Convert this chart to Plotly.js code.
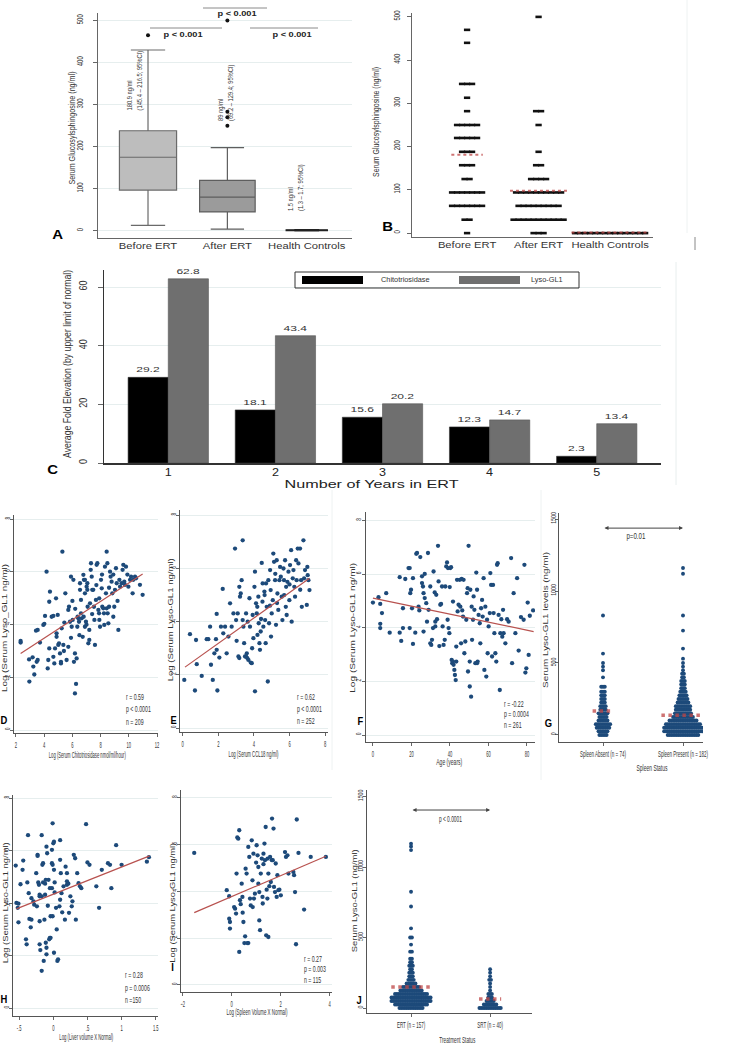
<!DOCTYPE html>
<html><head><meta charset="utf-8">
<script src="https://cdn.plot.ly/plotly-3.0.1.min.js"></script>
<style>html,body{margin:0;padding:0;background:#fff}#chart{width:731px;height:1050px}</style>
</head><body><div id="chart"></div>
<script>
// ---------------- DATA ----------------
// Panel A (box plot summary, ng/ml)
const aCats = ['Before ERT', 'After ERT', 'Health Controls'];
const aQ1 = [97, 45, 0.5];
const aMedian = [175, 80, 1.5];
const aQ3 = [238, 120, 2.5];
const aLowFence = [13, 4, 0];
const aHighFence = [430, 198, 3];
const aOutlierGroup = [0, 1, 1, 1, 1];
const aOutlierVal = [465, 250, 270, 283, 500];
const aCIText = ['180.9 ng/ml<br>(145.4 – 216.5; 95%CI)', '89 ng/ml<br>(69.2 – 129.4; 95%CI)', '1.5 ng/ml<br>(1.3 – 1.7; 95%CI)'];
const aPText = ['p < 0.001', 'p < 0.001', 'p < 0.001'];

// Panel B (dot plot: value levels and counts)
const bBeforeLevels = [0, 31, 63, 94, 125, 157, 188, 220, 250, 282, 313, 345, 440, 470];
const bBeforeCounts = [1, 2, 7, 7, 2, 3, 3, 5, 5, 1, 1, 3, 1, 1];
const bAfterLevels = [0, 31, 63, 94, 125, 157, 188, 250, 282, 500];
const bAfterCounts = [3, 11, 9, 10, 4, 2, 1, 1, 2, 1];
const bHcLevels = [0];
const bHcCounts = [15];
const bMedians = [181, 98, 1.5];

// Panel C
const cYears = [1, 2, 3, 4, 5];
const cSeries = ['Chitotriosidase', 'Lyso-GL1'];
const cChito = [29.2, 18.1, 15.6, 12.3, 2.3];
const cLyso = [62.8, 43.4, 20.2, 14.7, 13.4];

// Panel D: log chitotriosidase vs log lyso-GL1
const dPts = [[2.33,3.38],[2.33,3.32],[2.95,1.84],[2.93,2.68],[3.18,2.76],[3.23,2.41],[3.30,2.11],[3.47,2.59],[3.54,2.66],[3.42,3.77],[3.54,3.80],[3.70,3.32],[3.94,3.99],[4.01,4.03],[4.06,4.33],[4.17,6.01],[4.25,2.34],[4.29,2.66],[4.36,3.10],[4.41,5.25],[4.36,4.87],[4.53,4.30],[4.65,4.33],[4.65,2.78],[4.72,2.53],[4.77,3.10],[4.84,5.00],[4.88,3.54],[4.88,3.67],[4.96,4.37],[5.00,3.23],[5.05,3.29],[5.12,2.91],[5.19,2.53],[5.19,2.59],[5.24,3.86],[5.29,6.77],[5.36,3.23],[5.43,4.08],[5.50,5.19],[5.59,2.66],[5.71,3.16],[5.71,4.56],[5.76,4.68],[5.83,4.11],[5.90,5.82],[5.95,3.92],[6.02,4.18],[6.07,5.70],[6.11,2.59],[6.18,2.91],[6.18,1.39],[6.26,1.75],[6.30,2.72],[6.35,3.92],[6.37,4.30],[6.42,4.24],[6.47,4.11],[6.54,5.57],[6.54,5.32],[6.61,4.94],[6.61,4.43],[6.66,4.24],[6.73,3.54],[6.78,5.89],[6.82,5.70],[6.89,5.70],[6.89,5.19],[6.89,3.92],[6.96,4.11],[7.01,5.44],[7.06,5.57],[7.06,5.32],[7.08,4.68],[7.13,3.29],[7.20,3.42],[7.25,4.81],[7.30,6.08],[7.32,6.33],[7.37,5.82],[7.41,5.32],[7.48,5.32],[7.53,4.68],[7.56,4.18],[7.60,3.23],[7.67,4.94],[7.72,6.27],[7.77,6.33],[7.84,4.56],[7.89,4.43],[7.91,4.18],[7.96,3.92],[8.03,5.70],[8.08,5.38],[8.12,4.68],[8.19,4.62],[8.24,4.43],[8.26,3.99],[8.31,6.20],[8.38,5.19],[8.43,4.62],[8.43,6.77],[8.48,6.33],[8.50,4.43],[8.55,4.05],[8.60,4.68],[8.67,6.01],[8.71,5.82],[8.78,5.63],[8.83,5.19],[8.90,4.30],[8.97,4.68],[9.02,5.32],[9.09,6.14],[9.14,5.57],[9.26,3.80],[9.33,5.70],[9.38,5.44],[9.49,5.57],[9.56,6.08],[9.61,6.27],[9.68,5.63],[9.73,5.51],[9.80,6.20],[9.97,5.44],[10.09,5.70],[10.16,5.82],[10.27,5.19],[10.32,5.70],[10.44,5.82],[10.51,5.76],[10.79,5.51],[10.98,5.13],[6.20,4.60],[6.80,4.30],[7.00,4.00],[7.40,4.40],[7.90,5.00],[8.10,5.90],[8.60,5.40],[9.20,4.90],[6.50,3.60],[7.20,3.80],[5.90,3.50],[5.40,3.00],[6.00,4.90],[7.70,5.50],[8.90,5.90],[9.90,5.90]];
const dFitX = [2.33, 10.98];
const dFitY = [2.91, 5.92];
const dStats = ['r = 0.59', 'p < 0.0001', 'n = 209'];

// Panel E: log CCL18 vs log lyso-GL1
const ePts = [[0.09,1.81],[0.41,3.53],[0.69,1.41],[0.75,3.31],[0.79,2.40],[1.07,1.96],[1.35,3.34],[1.44,3.34],[1.54,3.81],[1.59,2.38],[1.69,1.81],[1.78,2.81],[1.87,3.34],[1.91,2.94],[1.91,4.29],[1.95,1.41],[2.06,2.65],[2.15,3.81],[2.25,5.23],[2.28,3.56],[2.38,3.81],[2.47,2.81],[2.57,3.44],[2.66,4.69],[2.75,3.81],[2.85,4.31],[2.94,6.75],[3.00,4.06],[3.03,3.28],[3.09,4.31],[3.13,2.69],[3.18,2.63],[3.18,5.31],[3.22,4.94],[3.26,5.06],[3.31,5.56],[3.37,7.06],[3.37,4.06],[3.41,3.81],[3.45,3.19],[3.50,2.69],[3.56,2.69],[3.60,2.81],[3.63,2.63],[3.69,2.56],[3.56,4.31],[3.65,4.00],[3.75,4.88],[3.78,3.81],[3.82,2.46],[3.88,2.44],[3.93,4.25],[3.97,3.38],[4.03,5.31],[4.06,1.38],[4.06,5.88],[4.12,4.69],[4.16,4.31],[4.19,4.56],[4.25,4.94],[4.27,3.94],[4.31,3.19],[4.34,2.94],[4.38,3.63],[4.44,6.21],[4.48,4.75],[4.49,5.44],[4.53,3.81],[4.59,5.13],[4.63,4.06],[4.66,3.19],[4.68,5.44],[4.72,4.56],[4.78,1.75],[4.81,5.56],[4.85,3.94],[4.91,5.94],[4.94,5.19],[4.96,3.44],[5.00,4.31],[5.06,4.81],[5.09,6.56],[5.13,6.25],[5.19,5.56],[5.24,3.88],[5.28,6.31],[5.32,5.06],[5.37,4.44],[5.43,5.56],[5.47,6.06],[5.51,5.69],[5.56,4.94],[5.60,4.06],[5.66,6.00],[5.69,5.56],[5.75,6.31],[5.79,4.56],[5.81,5.31],[5.84,4.25],[5.88,5.50],[5.94,5.88],[5.99,4.81],[6.03,6.13],[6.09,6.69],[6.12,4.00],[6.18,5.63],[6.22,5.94],[6.27,5.31],[6.31,4.94],[6.37,6.31],[6.40,5.56],[6.46,6.75],[6.50,6.19],[6.59,6.75],[6.65,5.56],[6.69,4.56],[6.78,7.06],[6.82,5.63],[6.87,5.94],[6.97,4.63],[7.00,6.06],[7.02,5.75],[7.06,5.56],[7.12,5.19],[4.40,4.10],[4.90,4.60],[5.30,4.70],[5.70,5.00],[6.00,5.40],[5.20,5.80],[4.60,5.00],[6.60,5.20],[3.90,3.00],[4.20,3.50]];
const eFitX = [0.13, 7.12];
const eFitY = [2.29, 5.63];
const eStats = ['r = 0.62', 'p < 0.0001', 'n = 252'];

// Panel F: age vs log lyso-GL1
const fPts = [[0.0,4.94],[2.9,5.14],[3.8,4.89],[4.7,4.55],[3.8,4.15],[3.8,3.99],[6.9,5.29],[8.7,3.82],[13.9,5.89],[13.9,3.82],[14.7,3.51],[15.6,4.73],[15.6,3.99],[16.8,5.82],[18.5,6.23],[19.1,6.23],[19.4,5.29],[19.8,5.42],[19.1,3.99],[20.3,4.73],[20.8,5.85],[20.8,3.40],[22.0,3.82],[22.5,6.76],[22.9,6.79],[23.7,4.79],[24.1,4.65],[24.6,6.64],[25.5,5.92],[25.5,5.67],[26.0,5.54],[26.3,5.29],[26.3,3.86],[26.9,5.11],[26.9,6.01],[27.7,4.92],[28.1,4.23],[28.6,6.79],[28.9,4.67],[29.8,5.54],[29.8,3.42],[30.3,3.36],[30.7,3.55],[31.2,3.99],[31.5,6.10],[32.1,5.32],[32.4,4.05],[32.4,4.23],[32.9,5.23],[33.3,4.32],[33.8,7.06],[34.1,5.73],[34.5,3.32],[35.0,4.86],[35.4,4.89],[35.9,5.54],[36.2,4.05],[36.7,3.36],[37.3,3.55],[37.6,5.54],[38.1,6.29],[38.5,6.44],[38.8,4.30],[39.0,6.23],[39.3,3.99],[39.7,3.80],[39.9,5.52],[40.2,6.23],[40.6,6.26],[40.9,2.80],[41.2,2.68],[41.6,2.74],[41.6,4.98],[41.9,2.62],[42.3,2.43],[42.6,2.24],[43.0,2.05],[43.3,2.74],[43.3,3.30],[43.7,5.79],[44.0,4.61],[44.5,4.86],[45.1,5.79],[45.4,4.79],[45.8,3.42],[46.1,5.82],[46.4,4.65],[46.8,4.42],[47.1,5.79],[47.5,3.05],[48.0,3.49],[48.5,4.30],[48.9,5.29],[49.2,5.48],[49.4,2.37],[49.7,7.06],[50.3,2.74],[50.3,1.81],[50.6,5.42],[51.0,1.43],[51.3,4.79],[51.5,3.55],[52.0,4.30],[52.3,5.17],[52.7,4.67],[53.2,2.68],[53.7,6.06],[54.1,5.42],[54.1,2.68],[54.4,2.74],[54.9,4.48],[55.5,4.17],[55.8,3.42],[56.2,4.73],[56.7,5.04],[57.0,4.42],[57.5,5.85],[57.9,2.43],[58.4,4.79],[58.9,2.18],[59.3,4.30],[59.6,3.05],[60.1,4.05],[60.7,4.55],[61.0,6.04],[61.4,5.60],[61.9,2.93],[62.4,5.60],[62.7,4.55],[63.1,3.80],[63.6,3.05],[64.1,2.74],[64.5,6.35],[64.8,6.41],[65.3,4.48],[65.9,1.68],[66.2,3.80],[66.7,4.32],[67.2,3.67],[67.6,4.67],[67.9,3.80],[68.8,3.42],[69.7,4.32],[70.5,4.23],[71.8,6.60],[72.3,2.68],[73.1,5.29],[74.0,3.80],[74.9,5.85],[75.7,3.15],[76.9,4.40],[78.3,4.30],[78.7,6.35],[79.2,2.33],[79.7,2.49],[80.4,4.94],[80.9,2.99],[81.5,4.45],[83.2,4.65]];
const fFitX = [0, 83.5];
const fFitY = [5.11, 3.86];
const fStats = ['r = -0.22', 'p = 0.0004', 'n = 261'];

// Panel G: spleen status (dot plot levels & counts, ng/ml)
const gCats = ['Spleen Absent (n = 74)', 'Spleen Present (n = 182)'];
const gAbsentLevels = [0,25,50,75,100,125,150,175,200,225,250,275,300,335,400,450,475,500,565,830];
const gAbsentCounts = [5,6,8,9,6,5,6,4,4,3,3,3,3,3,1,1,1,1,1,1];
const gPresentLevels = [0,25,50,75,100,125,150,175,200,225,250,275,300,325,350,375,400,425,450,475,500,530,600,725,830,1120,1160];
const gPresentCounts = [18,22,22,20,16,12,10,9,9,7,6,5,4,3,3,3,2,2,1,1,1,1,1,1,1,1,1];
const gMedians = [167, 137];
const gPText = 'p=0.01';

// Panel H: log liver volume vs log lyso-GL1
const hPts = [[-0.55,5.44],[-0.54,4.02],[-0.52,3.83],[-0.51,3.99],[-0.51,3.28],[-0.48,4.73],[-0.45,5.28],[-0.44,5.63],[-0.40,2.63],[-0.39,2.44],[-0.38,4.80],[-0.37,6.60],[-0.36,4.39],[-0.35,3.41],[-0.33,3.09],[-0.32,3.38],[-0.32,4.20],[-0.29,4.08],[-0.28,3.95],[-0.25,5.15],[-0.24,3.89],[-0.23,5.85],[-0.23,5.81],[-0.22,4.80],[-0.21,4.71],[-0.20,4.33],[-0.20,4.27],[-0.20,2.44],[-0.20,3.32],[-0.19,2.22],[-0.17,1.43],[-0.17,6.60],[-0.17,4.27],[-0.16,5.47],[-0.15,5.53],[-0.15,4.80],[-0.14,1.81],[-0.13,3.38],[-0.12,4.75],[-0.12,4.33],[-0.11,4.90],[-0.11,2.50],[-0.10,2.31],[-0.10,2.06],[-0.10,6.16],[-0.09,5.91],[-0.08,3.91],[-0.07,4.90],[-0.06,2.63],[-0.05,2.69],[-0.04,2.69],[-0.05,4.58],[-0.04,3.51],[-0.02,6.04],[-0.02,5.53],[-0.01,5.47],[-0.02,4.58],[-0.01,3.51],[-0.01,7.05],[0.00,6.29],[0.01,6.35],[0.01,5.28],[0.02,4.80],[0.01,2.12],[0.02,4.42],[0.04,3.83],[0.05,3.01],[0.06,1.81],[0.07,1.87],[0.09,3.89],[0.10,4.14],[0.10,6.41],[0.10,5.66],[0.11,5.15],[0.12,4.39],[0.13,3.66],[0.15,4.65],[0.17,3.38],[0.18,5.40],[0.20,5.15],[0.20,4.71],[0.20,4.84],[0.22,4.75],[0.23,3.64],[0.25,4.27],[0.27,3.89],[0.28,4.08],[0.30,5.85],[0.32,5.72],[0.33,3.38],[0.35,5.15],[0.37,4.77],[0.39,4.65],[0.41,4.58],[0.48,7.02],[0.50,5.56],[0.53,5.47],[0.63,4.65],[0.67,3.83],[0.71,5.28],[0.80,5.53],[0.83,5.47],[0.85,4.58],[0.92,6.22],[1.00,5.47],[1.37,5.59],[1.40,5.76]];
const hFitX = [-0.54, 1.41];
const hFitY = [3.79, 5.81];
const hStats = ['r = 0.28', 'p = 0.0006', 'n =150'];

// Panel I: log spleen volume vs log lyso-GL1
const iPts = [[-1.53,5.64],[-0.20,4.05],[-0.10,3.79],[-0.10,2.83],[-0.07,2.69],[-0.07,2.41],[0.10,3.33],[0.14,3.26],[0.18,3.05],[0.20,4.76],[0.23,6.30],[0.27,6.25],[0.31,6.61],[0.31,1.41],[0.34,3.62],[0.37,3.45],[0.41,4.33],[0.44,3.76],[0.45,3.09],[0.48,2.69],[0.52,1.79],[0.55,2.08],[0.57,4.97],[0.61,4.76],[0.64,1.79],[0.68,1.79],[0.68,5.90],[0.72,5.47],[0.75,3.69],[0.78,3.40],[0.82,6.18],[0.85,4.47],[0.86,3.33],[0.89,5.61],[0.91,3.69],[0.95,3.90],[1.00,5.23],[1.02,5.97],[1.06,5.54],[1.09,5.04],[1.09,4.33],[1.13,3.97],[1.13,2.76],[1.16,2.34],[1.19,4.76],[1.23,5.40],[1.26,3.76],[1.27,3.48],[1.30,5.61],[1.30,5.16],[1.34,6.04],[1.36,5.33],[1.39,6.75],[1.41,2.12],[1.43,4.07],[1.46,3.69],[1.47,5.40],[1.50,4.76],[1.50,2.05],[1.54,4.22],[1.57,5.47],[1.60,4.40],[1.64,5.33],[1.65,7.11],[1.68,5.33],[1.71,6.68],[1.73,4.19],[1.77,3.97],[1.80,5.19],[1.84,3.76],[1.87,4.69],[1.91,4.05],[1.95,4.07],[2.01,3.83],[2.18,5.68],[2.22,5.47],[2.28,5.54],[2.32,4.76],[2.52,4.83],[2.55,4.69],[2.59,3.97],[2.63,1.74],[2.66,7.07],[2.73,5.64],[2.96,3.22],[3.23,5.47],[3.85,5.47]];
const iFitX = [-1.53, 3.85];
const iFitY = [3.09, 5.50];
const iStats = ['r = 0.27', 'p = 0.003', 'n = 115'];

// Panel J: treatment status (dot plot levels & counts, ng/ml)
const jCats = ['ERT (n = 157)', 'SRT (n = 40)'];
const jErtLevels = [0,25,50,75,100,125,150,175,200,225,250,275,300,325,350,400,450,500,565,720,825,1120,1145,1165];
const jErtCounts = [14,19,23,23,19,13,10,6,4,3,3,2,3,2,2,2,1,2,1,1,1,1,1,1];
const jSrtLevels = [0,25,50,75,100,125,150,175,200,225,250,275];
const jSrtCounts = [13,8,5,3,3,1,1,1,2,1,1,1];
const jMedians = [149, 64];
const jPText = 'p < 0.0001';

// ---------------- HELPERS ----------------
const W = 731, H = 1050;
const PX = x => x / W, PY = y => 1 - y / H;
const BASE = "'Liberation Sans', Arial, sans-serif";
// font helper: f = horizontal squeeze/stretch factor, L = exact text length (px); applied after render
function F(size, f, L, color, weight) {
  let fam = BASE;
  if (f) fam += ', sq' + Math.round(f * 100);
  if (L) fam += ', tl' + L;
  const o = { family: fam, size: size, color: color || '#333' };
  if (weight) o.weight = weight;
  return o;
}
const NAVY = '#1d4a7a';
const FITC = '#b8524f';
const GRID = '#e6eeee';
const MEDC = 'rgba(190,70,70,0.75)';

function xdom(x0, x1) { return [x0 / W, x1 / W]; }
function ydom(y0, y1) { return [1 - y1 / H, 1 - y0 / H]; }
function dots(levels, counts, center, pitch) {
  const x = [], y = [];
  levels.forEach((v, i) => { const n = counts[i]; for (let k = 0; k < n; k++) { x.push(center + (k - (n - 1) / 2) * pitch); y.push(v); } });
  return { x, y };
}
function baseAxis(o) {
  return Object.assign({ showgrid: false, zeroline: false, showline: true, linecolor: '#555', linewidth: 1,
    ticks: 'outside', ticklen: 3, tickcolor: '#666', tickfont: F(9, 0.45), ticklabeloverflow: 'allow',
    fixedrange: true }, o);
}

const traces = [];
const ann = [];
const shapes = [];

function txt(x, y, text, o) { ann.push(Object.assign({ xref: 'paper', yref: 'paper', x: PX(x), y: PY(y), text, showarrow: false, xanchor: 'center', yanchor: 'middle', font: F(9) }, o)); }
function hline(x0, x1, y, color, w) { shapes.push({ type: 'line', xref: 'paper', yref: 'paper', x0: PX(x0), x1: PX(x1), y0: PY(y), y1: PY(y), line: { color, width: w || 1 } }); }
function vline(x, y0, y1, color, w) { shapes.push({ type: 'line', xref: 'paper', yref: 'paper', x0: PX(x), x1: PX(x), y0: PY(y0), y1: PY(y1), line: { color, width: w || 1 } }); }
function rect(x0, y0, x1, y1, fill, lc, lw) { shapes.push({ type: 'rect', xref: 'paper', yref: 'paper', x0: PX(x0), x1: PX(x1), y0: PY(y1), y1: PY(y0), fillcolor: fill, line: { color: lc || fill, width: lw == null ? 0 : lw } }); }

// ---------------- PANEL A ----------------
const aFill = ['#bdbdbd', '#9b9b9b', '#222'];
const aLine = ['#6a6a6a', '#5e5e5e', '#222'];
const aWidth = [0.72, 0.7, 0.52];
aCats.forEach((c, i) => {
  traces.push({ type: 'box', xaxis: 'x', yaxis: 'y', x: [i], q1: [aQ1[i]], median: [aMedian[i]], q3: [aQ3[i]],
    lowerfence: [aLowFence[i]], upperfence: [aHighFence[i]], width: aWidth[i], whiskerwidth: 0.6,
    fillcolor: aFill[i], line: { color: aLine[i], width: 1.2 }, boxpoints: false, hoverinfo: 'skip', showlegend: false });
});
traces.push({ type: 'scatter', mode: 'markers', xaxis: 'x', yaxis: 'y', x: aOutlierGroup, y: aOutlierVal,
  marker: { color: '#111', size: 4 }, showlegend: false, hoverinfo: 'skip' });

// ---------------- PANEL B ----------------
const bPitch = 0.07;
[[bBeforeLevels, bBeforeCounts], [bAfterLevels, bAfterCounts], [bHcLevels, bHcCounts]].forEach((g, i) => {
  const d = dots(g[0], g[1], i, bPitch);
  traces.push({ type: 'scatter', mode: 'markers', xaxis: 'x2', yaxis: 'y2', x: d.x, y: d.y,
    marker: { symbol: 'line-ew', size: 4.5, line: { color: '#111', width: 2.6 } }, showlegend: false, hoverinfo: 'skip' });
});
const bMedHalf = [0.22, 0.4, 0.54];
bMedians.forEach((m, i) => {
  traces.push({ type: 'scatter', mode: 'lines', xaxis: 'x2', yaxis: 'y2', x: [i - bMedHalf[i], i + bMedHalf[i]], y: [m, m],
    line: { color: MEDC, width: 2, dash: 'dot' }, showlegend: false, hoverinfo: 'skip' });
});

// ---------------- PANEL C ----------------
traces.push({ type: 'bar', xaxis: 'x3', yaxis: 'y3', x: cYears, y: cChito, name: cSeries[0],
  marker: { color: '#000', line: { color: '#333', width: 0.6 } }, text: cChito.map(v => v.toFixed(1)), textposition: 'outside',
  textfont: F(8, 1.5, null, '#333'), cliponaxis: false, showlegend: false, hoverinfo: 'skip' });
traces.push({ type: 'bar', xaxis: 'x3', yaxis: 'y3', x: cYears, y: cLyso, name: cSeries[1],
  marker: { color: '#6f6f6f', line: { color: '#555', width: 0.6 } }, text: cLyso.map(v => v.toFixed(1)), textposition: 'outside',
  textfont: F(8, 1.5, null, '#333'), cliponaxis: false, showlegend: false, hoverinfo: 'skip' });
// custom legend
rect(295, 272, 579, 288, 'rgba(0,0,0,0)', '#333', 1);
rect(302, 276, 363, 284, '#000');
rect(459, 276, 520, 284, '#6f6f6f');
txt(379, 280, cSeries[0], { xanchor: 'left', align: 'left', font: F(7, 1.05) });
txt(529, 280, cSeries[1], { xanchor: 'left', align: 'left', font: F(7, 1.05) });

// ---------------- SCATTER PANELS ----------------
function scatterPanel(pts, fx, fy, xa, ya) {
  traces.push({ type: 'scatter', mode: 'markers', xaxis: xa, yaxis: ya, x: pts.map(p => p[0]), y: pts.map(p => p[1]),
    marker: { color: NAVY, size: 4.3 }, showlegend: false, hoverinfo: 'skip' });
  traces.push({ type: 'scatter', mode: 'lines', xaxis: xa, yaxis: ya, x: fx, y: fy,
    line: { color: FITC, width: 1.2 }, showlegend: false, hoverinfo: 'skip' });
}
scatterPanel(dPts, dFitX, dFitY, 'x4', 'y4');
scatterPanel(ePts, eFitX, eFitY, 'x5', 'y5');
scatterPanel(fPts, fFitX, fFitY, 'x6', 'y6');
scatterPanel(hPts, hFitX, hFitY, 'x8', 'y8');
scatterPanel(iPts, iFitX, iFitY, 'x9', 'y9');

// ---------------- DOT PANELS G / J ----------------
function dotPanel(groups, meds, halfW, xa, ya) {
  groups.forEach((g, i) => {
    const d = dots(g[0], g[1], i, 0.0225);
    traces.push({ type: 'scatter', mode: 'markers', xaxis: xa, yaxis: ya, x: d.x, y: d.y,
      marker: { color: NAVY, size: 3.9 }, showlegend: false, hoverinfo: 'skip' });
  });
  meds.forEach((m, i) => {
    traces.push({ type: 'scatter', mode: 'lines', xaxis: xa, yaxis: ya, x: [i - halfW[i], i + halfW[i]], y: [m, m],
      line: { color: MEDC, width: 3.5, dash: 'dot' }, showlegend: false, hoverinfo: 'skip' });
  });
}
dotPanel([[gAbsentLevels, gAbsentCounts], [gPresentLevels, gPresentCounts]], gMedians, [0.13, 0.27], 'x7', 'y7');
dotPanel([[jErtLevels, jErtCounts], [jSrtLevels, jSrtCounts]], jMedians, [0.25, 0.14], 'x10', 'y10');

// arrows in G and J
ann.push({ xref: 'x7', yref: 'y7', axref: 'x7', ayref: 'y7', x: 1, y: 1437, ax: 0, ay: 1437, text: '', showarrow: true,
  arrowside: 'end+start', arrowhead: 2, arrowsize: 0.8, arrowwidth: 1, arrowcolor: '#444' });
ann.push({ xref: 'x10', yref: 'y10', axref: 'x10', ayref: 'y10', x: 1, y: 1404, ax: 0, ay: 1404, text: '', showarrow: true,
  arrowside: 'end+start', arrowhead: 2, arrowsize: 0.8, arrowwidth: 1, arrowcolor: '#444' });
txt(636, 536, gPText, { font: F(9, null, 19) });
txt(450, 819, jPText, { font: F(9, null, 23) });

// ---------------- TEXT / ANNOTATIONS ----------------
// A: CI labels (rotated, bottom-aligned)
txt(134, 113, aCIText[0], { textangle: -90, align: 'left', yanchor: 'bottom', font: F(8, 0.72) });
txt(225.5, 123, aCIText[1], { textangle: -90, align: 'left', yanchor: 'bottom', font: F(8, 0.72) });
txt(295.5, 213, aCIText[2], { textangle: -90, align: 'left', yanchor: 'bottom', font: F(8, 0.72) });
// A: p-value brackets
hline(150, 222, 28, '#8a8a8a'); txt(183, 35, aPText[0], { font: F(8, 1.15, null, '#222', 'bold') });
hline(250, 318, 28, '#8a8a8a'); txt(292, 35, aPText[1], { font: F(8, 1.15, null, '#222', 'bold') });
hline(203, 267, 8, '#8a8a8a'); txt(237, 14, aPText[2], { font: F(8, 1.15, null, '#222', 'bold') });

// axis titles (as text)
txt(72, 128, 'Serum Glucosylsphingosine (ng/ml)', { textangle: -90, font: F(9, null, 113) });
txt(376, 122, 'Serum Glucosylsphingosine (ng/ml)', { textangle: -90, font: F(9, null, 110) });
txt(67, 364, 'Average Fold Elevation (by upper limit of normal)', { textangle: -90, font: F(11, null, 188) });
txt(372, 484, 'Number of Years in ERT', { font: F(10.5, null, 174, '#222') });
txt(4, 628, 'Log (Serum Lyso_GL1 ng/ml)', { textangle: -90, font: F(7.5, null, 128) });
txt(170, 620, 'Log (Serum Lyso-GL1 ng/ml)', { textangle: -90, font: F(7.5, null, 123) });
txt(352, 628, 'Log (Serum Lyso-GL1 ng/ml)', { textangle: -90, font: F(7.5, null, 130) });
txt(546, 620, 'Serum Lyso-GL1 levels (ng/ml)', { textangle: -90, font: F(7, null, 136) });
txt(5, 903, 'Log (Serum Lyso-GL1 ng/ml)', { textangle: -90, font: F(7.5, null, 121) });
txt(172, 903, 'Log (Serum Lyso-GL1 ng/ml)', { textangle: -90, font: F(7.5, null, 120) });
txt(355, 901, 'Serum Lyso-GL1 (ng/ml)', { textangle: -90, font: F(7, null, 103) });
txt(87, 755, 'Log (Serum Chitotriosidase nmol/ml/hour)', { font: F(9, null, 77) });
txt(253, 754, 'Log (Serum CCL18 ng/ml)', { font: F(9, null, 50) });
txt(449, 762, 'Age (years)', { font: F(9, null, 26) });
txt(652, 768, 'Spleen Status', { font: F(9, null, 31) });
txt(86, 1037, 'Log (Liver volume X Normal)', { font: F(9, null, 54) });
txt(257, 1012, 'Log (Spleen Volume X Normal)', { font: F(9, null, 61) });
txt(457, 1040, 'Treatment Status', { font: F(9, null, 36) });

// stats
function stats(x, ys, arr) { arr.forEach((s, i) => txt(x, ys[i], s, { xanchor: 'left', align: 'left', font: F(9.5, 0.55) })); }
stats(124, [696, 708, 721], dStats);
stats(295, [696, 708, 720], eStats);
stats(502, [703, 713, 724], fStats);
stats(123, [974, 987, 999], hStats);
stats(302, [958, 968, 979], iStats);

// panel letters
const LF1 = F(13, 1.15, null, '#000');
const LF2 = F(11, 0.85, null, '#000');
[['A', 58, 234, LF1], ['B', 387, 227, LF1], ['C', 53, 470, LF1], ['D', 4, 720, LF2], ['E', 173, 720, LF2], ['F', 360, 721, LF2], ['G', 548, 723, LF2], ['H', 4, 999, LF2], ['I', 172, 967, LF2], ['J', 359, 1000, LF2]]
  .forEach(l => txt(l[1], l[2], '<b>' + l[0] + '</b>', { font: l[3] }));

// faint panel borders
vline(687, 0, 233, '#eef2f2');
vline(695, 237, 250, '#888');
vline(676, 262, 485, '#e8eeee');
vline(332, 490, 770, '#eef2f2');
vline(541, 490, 780, '#eef2f2');

// ---------------- LAYOUT ----------------
const yTickS = F(8, 0.6);
const layout = {
  width: W, height: H, margin: { l: 0, r: 0, t: 0, b: 0 }, paper_bgcolor: '#fff', plot_bgcolor: 'rgba(0,0,0,0)',
  showlegend: false, barmode: 'group', bargap: 0.25, bargroupgap: 0,
  font: { family: BASE, color: '#333' },
  // A
  xaxis: baseAxis({ domain: xdom(98, 352), range: [-0.63, 2.57], anchor: 'y', tickvals: [0, 1, 2], ticktext: aCats, ticks: '',
    tickfont: F(8.5, 1.32), tickangle: 0, linecolor: '#666' }),
  yaxis: baseAxis({ domain: ydom(13, 238), range: [-17, 518], anchor: 'x', tickvals: [0, 100, 200, 300, 400, 500], tickangle: -90,
    showgrid: true, gridcolor: GRID, linecolor: '#666', ticklen: 4, tickfont: F(9, 0.67), ticklabelstandoff: 6 }),
  // B
  xaxis2: baseAxis({ domain: xdom(412, 653), range: [-0.77, 2.6], anchor: 'y2', tickvals: [0, 1, 2], ticktext: aCats, ticks: '',
    tickfont: F(8.5, 1.32), tickangle: 0, linecolor: '#666' }),
  yaxis2: baseAxis({ domain: ydom(13, 237), range: [-9, 509], anchor: 'x2', tickvals: [0, 100, 200, 300, 400, 500], tickangle: -90,
    linecolor: '#666', ticklen: 4, tickfont: F(9, 0.67), ticklabelstandoff: 3 }),
  // C
  xaxis3: baseAxis({ domain: xdom(104, 661), range: [0.4, 5.6], anchor: 'y3', tickvals: cYears, ticks: '',
    tickfont: F(11, 1.15, null, '#222'), tickangle: 0, ticklabelstandoff: -2, linecolor: '#333', linewidth: 1.5 }),
  yaxis3: baseAxis({ domain: ydom(270, 463), range: [0, 65.8], anchor: 'x3', tickvals: [0, 20, 40, 60], tickangle: -90,
    tickfont: F(10, 0.9), ticklen: 5, ticklabelstandoff: 7, showgrid: true, gridcolor: GRID, linecolor: '#333', linewidth: 1.5 }),
  // D
  xaxis4: baseAxis({ domain: xdom(14, 158), range: [1.86, 12.07], anchor: 'y4', tickvals: [2, 4, 6, 8, 10, 12], tickangle: 0 }),
  yaxis4: baseAxis({ domain: ydom(515, 733), range: [-0.11, 8.16], anchor: 'x4', tickvals: [0, 2, 4, 6, 8], tickangle: -90, tickfont: yTickS, ticklabelstandoff: -3, showgrid: true, gridcolor: GRID }),
  // E
  xaxis5: baseAxis({ domain: xdom(180, 328), range: [-0.15, 8.16], anchor: 'y5', tickvals: [0, 2, 4, 6, 8], tickangle: 0 }),
  yaxis5: baseAxis({ domain: ydom(510, 732), range: [-0.15, 8.2], anchor: 'x5', tickvals: [0, 2, 4, 6, 8], tickangle: -90, tickfont: yTickS, ticklabelstandoff: -3, showgrid: true, gridcolor: GRID }),
  // F
  xaxis6: baseAxis({ domain: xdom(366, 535), range: [-3.6, 84.2], anchor: 'y6', tickvals: [0, 20, 40, 60, 80], tickangle: 0 }),
  yaxis6: baseAxis({ domain: ydom(512, 742), range: [-0.26, 8.32], anchor: 'x6', tickvals: [0, 2, 4, 6, 8], tickangle: -90, tickfont: yTickS, ticklabelstandoff: -2, showgrid: true, gridcolor: GRID }),
  // G
  xaxis7: baseAxis({ domain: xdom(559, 703), range: [-0.55, 1.25], anchor: 'y7', tickvals: [0, 1], ticktext: gCats, tickfont: F(9, 0.5), tickangle: 0 }),
  yaxis7: baseAxis({ domain: ydom(513, 742), range: [-49, 1542], anchor: 'x7', tickvals: [0, 500, 1000, 1500], tickangle: -90, tickfont: F(7, 0.75), ticklabelstandoff: -4 }),
  // H
  xaxis8: baseAxis({ domain: xdom(13, 158), range: [-0.59, 1.533], anchor: 'y8', tickvals: [-0.5, 0, 0.5, 1, 1.5], ticktext: ['-.5', '0', '.5', '1', '1.5'], tickangle: 0 }),
  yaxis8: baseAxis({ domain: ydom(795, 1016), range: [-0.29, 8.13], anchor: 'x8', tickvals: [0, 2, 4, 6, 8], tickangle: -90, tickfont: yTickS, ticklabelstandoff: -3, showgrid: true, gridcolor: GRID }),
  // I
  xaxis9: baseAxis({ domain: xdom(181, 332), range: [-2.07, 4.1], anchor: 'y9', tickvals: [-2, 0, 2, 4], tickangle: 0 }),
  yaxis9: baseAxis({ domain: ydom(790, 992), range: [-0.3, 8.33], anchor: 'x9', tickvals: [0, 2, 4, 6, 8], tickangle: -90, tickfont: yTickS, ticklabelstandoff: -3, showgrid: true, gridcolor: GRID }),
  // J
  xaxis10: baseAxis({ domain: xdom(367, 532), range: [-0.557, 1.53], anchor: 'y10', tickvals: [0, 1], ticktext: jCats, tickfont: F(9, 0.5), tickangle: 0 }),
  yaxis10: baseAxis({ domain: ydom(790, 1013), range: [-35, 1546], anchor: 'x10', tickvals: [0, 500, 1000, 1500], tickangle: -90, tickfont: F(7, 0.75), ticklabelstandoff: -3 }),
  annotations: ann, shapes: shapes
};

// squeeze / stretch texts that carry a width marker in their font family
function adjustTexts() {
  document.querySelectorAll('#chart svg text').forEach(t => {
    const ff = t.style.fontFamily || '';
    const m = ff.match(/sq(\d+)/), L = ff.match(/tl(\d+)/);
    if (!m && !L) return;
    const lines = t.querySelectorAll('tspan.line');
    const targets = lines.length ? Array.from(lines) : [t];
    targets.forEach(el => {
      const w = el.getComputedTextLength();
      if (!w) return;
      const nw = L ? +L[1] : w * (+m[1] / 100);
      el.setAttribute('textLength', nw.toFixed(1));
      el.setAttribute('lengthAdjust', 'spacingAndGlyphs');
    });
  });
}

Plotly.newPlot('chart', traces, layout, { staticPlot: true, displayModeBar: false }).then(adjustTexts);
</script></body></html>
